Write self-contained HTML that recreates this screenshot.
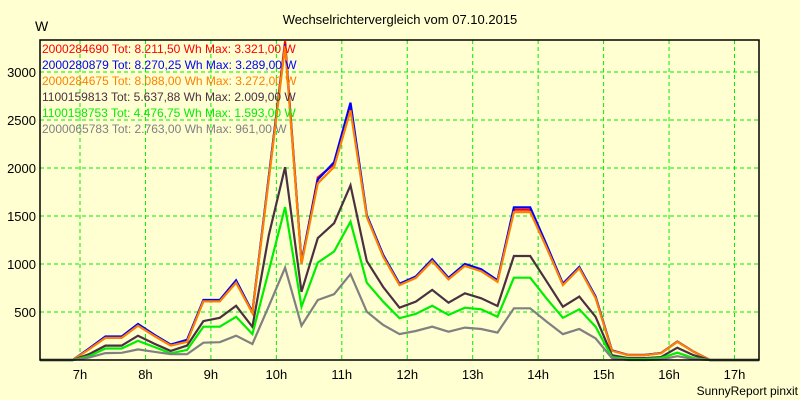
<!DOCTYPE html>
<html><head><meta charset="utf-8"><style>
body{margin:0;background:#ffffd2;}
svg{display:block;font-family:"Liberation Sans",sans-serif;}
</style></head><body>
<svg width="800" height="400" viewBox="0 0 800 400">
<rect x="0" y="0" width="800" height="400" fill="#ffffd2"/>
<text x="400" y="24" text-anchor="middle" font-size="13" fill="#000">Wechselrichtervergleich vom 07.10.2015</text>
<text x="35" y="31" font-size="14" fill="#000">W</text>
<text x="798" y="395" text-anchor="end" font-size="12" fill="#000">SunnyReport pinxit</text>
<g id="grid"></g>
<g id="axes"></g>
<g id="series"></g>
<rect x="40" y="40" width="719" height="320" fill="none" stroke="#000" stroke-width="1.5"/>
<g id="legend"></g>
</svg>
<script>
const yTicks = [500, 1000, 1500, 2000, 2500, 3000];
const xTickLabels = ["7h","8h","9h","10h","11h","12h","13h","14h","15h","16h","17h"];
const xTickHours = [7,8,9,10,11,12,13,14,15,16,17];
const seriesNames = ["2000284690 Tot: 8.211,50 Wh Max: 3.321,00 W","2000280879 Tot: 8.270,25 Wh Max: 3.289,00 W","2000284675 Tot: 8.088,00 Wh Max: 3.272,00 W","1100159813 Tot: 5.637,88 Wh Max: 2.009,00 W","1100158753 Tot: 4.476,75 Wh Max: 1.593,00 W","2000065783 Tot: 2.763,00 Wh Max: 961,00 W"];
const seriesColors = ["#ff0000","#0000ff","#ff8000","#4a3040","#00ee00","#808080"];
const seriesRed = [0,0,0,115,235,235,365,255,155,200,615,615,815,495,1900,3321,1010,1900,2040,2620,1500,1085,790,862,1040,848,988,935,822,1565,1565,1180,790,962,652,100,52,52,72,192,86,0,0,0,0];
const seriesBlue = [0,0,0,120,245,245,375,262,160,210,625,625,830,500,1910,3289,1020,1880,2060,2680,1510,1095,795,870,1050,855,1000,945,830,1590,1590,1200,795,970,660,100,52,52,72,192,86,0,0,0,0];
const seriesOrange = [0,0,0,110,230,230,357,250,150,190,610,610,805,490,1880,3272,1000,1840,2010,2600,1490,1075,780,855,1030,840,980,925,815,1540,1540,1170,780,955,645,95,50,50,70,190,85,0,0,0,0];
const seriesDark = [0,0,0,60,150,150,253,170,95,150,405,440,565,345,1300,2009,710,1270,1425,1820,1030,760,545,607,730,597,695,643,562,1083,1083,820,555,660,450,50,20,20,30,128,50,0,0,0,0];
const seriesGreen = [0,0,0,40,120,120,200,135,70,105,347,347,450,270,930,1593,555,1015,1130,1440,805,607,435,480,565,470,545,528,450,857,857,640,440,528,347,30,10,10,20,76,20,0,0,0,0];
const seriesGray = [0,0,0,25,72,75,110,85,60,60,180,185,253,167,560,961,357,625,685,895,503,365,270,302,347,295,337,323,285,538,538,400,270,323,225,20,0,0,5,40,10,0,0,0,0];

const NS="http://www.w3.org/2000/svg";
const X0=40,X1=759,Y0=360,YT=40,YMAX=3333;
const nPts=seriesRed.length;
function xIdx(i){return X0+i*(X1-X0)/(nPts-1);}
function xHour(h){return 80+(h-7)*65.45;}
function yVal(v){return Y0-v*(Y0-YT)/YMAX;}
function mk(tag,attrs,parent){const e=document.createElementNS(NS,tag);for(const k in attrs)e.setAttribute(k,attrs[k]);parent.appendChild(e);return e;}
const grid=document.getElementById('grid'),axes=document.getElementById('axes'),ser=document.getElementById('series'),leg=document.getElementById('legend');
yTicks.forEach(v=>{
  const y=yVal(v);
  const l=mk('line',{x1:X0,x2:X1,y1:y,y2:y,stroke:'#00ee00','stroke-width':1,'stroke-dasharray':'4,3'},grid);
  
  
  const t=mk('text',{x:36,y:y+5,'text-anchor':'end','font-size':13,fill:'#000'},axes);
  t.textContent=v;
  
  
});
xTickHours.forEach((h,i)=>{
  const x=xHour(h);
  const l=mk('line',{x1:x,x2:x,y1:YT,y2:Y0,stroke:'#00ee00','stroke-width':1,'stroke-dasharray':'4,3'},grid);
  
  
  const t=mk('text',{x:x,y:379,'text-anchor':'middle','font-size':13,fill:'#000'},axes);
  t.textContent=xTickLabels[i];
  
  
});
const all=[seriesRed,seriesBlue,seriesOrange,seriesDark,seriesGreen,seriesGray];
const names=['series-red','series-blue','series-orange','series-dark','series-green','series-gray'];
all.forEach((s,si)=>{
  const pts=s.map((v,i)=>xIdx(i).toFixed(1)+','+yVal(v).toFixed(1)).join(' ');
  const p=mk('polyline',{points:pts,fill:'none',stroke:seriesColors[si],'stroke-width':2.2,'stroke-linejoin':'miter'},ser);
  
  
});
seriesNames.forEach((n,i)=>{
  const t=mk('text',{x:42,y:53+i*16,'font-size':12,fill:seriesColors[i]},leg);
  t.textContent=n;
  
  
});
</script>
</body></html>
